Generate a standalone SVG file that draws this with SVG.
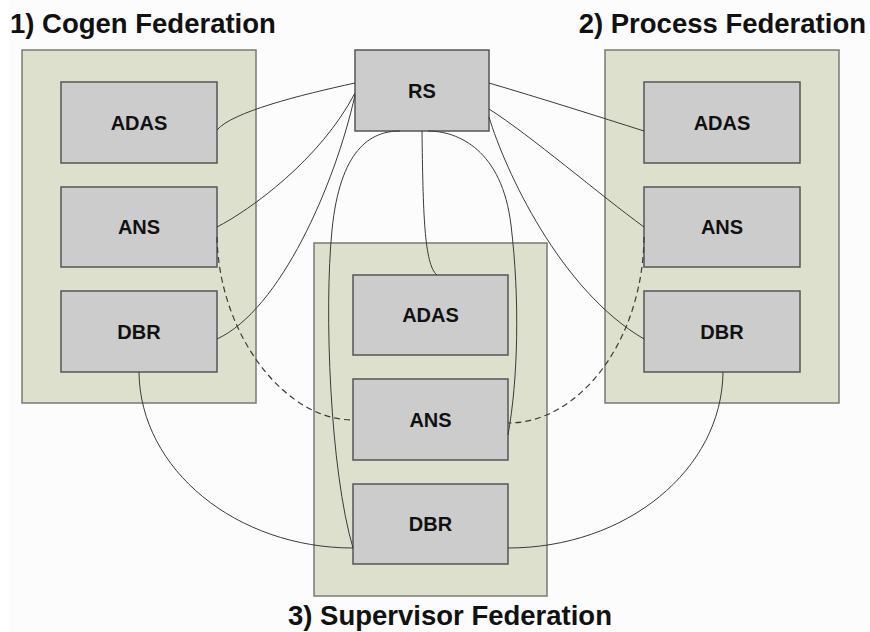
<svg xmlns="http://www.w3.org/2000/svg" width="870" height="632" viewBox="0 0 870 632">
<style>
.fed{fill:#dde0cc;stroke:#7a7a72;stroke-width:1.5}
.node{fill:#cccccc;stroke:#555555;stroke-width:1.5}
.lbl{font-family:"Liberation Sans",Arial,sans-serif;font-weight:bold;font-size:20px;fill:#111;text-anchor:middle}
.title{font-family:"Liberation Sans",Arial,sans-serif;font-weight:bold;font-size:27.5px;fill:#111}
.c{fill:none;stroke:#3a3a3a;stroke-width:1}
.d{fill:none;stroke:#3a3a3a;stroke-width:1.2;stroke-dasharray:6,4}
</style>
<rect width="870" height="632" fill="#ffffff"/>
<rect x="9" y="0" width="861" height="632" fill="#fcfcfc"/>
<g id="titles">
<text class="title" x="10" y="33">1) Cogen Federation</text>
<text class="title" x="866" y="33" text-anchor="end">2) Process Federation</text>
<text class="title" x="450" y="625" text-anchor="middle">3) Supervisor Federation</text>
</g>
<g id="fed1"><rect class="fed" x="22" y="50" width="234" height="353"/></g>
<g id="fed2"><rect class="fed" x="605" y="50" width="234" height="353"/></g>
<g id="fed3"><rect class="fed" x="314" y="243" width="233" height="353"/></g>
<g id="cogen-adas"><rect class="node" x="61" y="82" width="156" height="81"/><text class="lbl" x="139" y="129.5">ADAS</text></g>
<g id="cogen-ans"><rect class="node" x="61" y="187" width="156" height="80"/><text class="lbl" x="139" y="234">ANS</text></g>
<g id="cogen-dbr"><rect class="node" x="61" y="291" width="156" height="81"/><text class="lbl" x="139" y="338.5">DBR</text></g>
<g id="process-adas"><rect class="node" x="644" y="82" width="156" height="81"/><text class="lbl" x="722" y="129.5">ADAS</text></g>
<g id="process-ans"><rect class="node" x="644" y="187" width="156" height="80"/><text class="lbl" x="722" y="234">ANS</text></g>
<g id="process-dbr"><rect class="node" x="644" y="291" width="156" height="81"/><text class="lbl" x="722" y="338.5">DBR</text></g>
<g id="sup-adas"><rect class="node" x="353" y="275" width="155" height="80"/><text class="lbl" x="430.5" y="322">ADAS</text></g>
<g id="sup-ans"><rect class="node" x="353" y="379" width="155" height="81"/><text class="lbl" x="430.5" y="426.5">ANS</text></g>
<g id="sup-dbr"><rect class="node" x="353" y="484" width="155" height="80"/><text class="lbl" x="430.5" y="531">DBR</text></g>
<g id="rs"><rect class="node" x="355" y="50" width="134" height="81"/><text class="lbl" x="422" y="97.5">RS</text></g>
<g id="connectors">
<path class="c" d="M217,130 C232,112 300,95 355,83"/>
<path class="c" d="M217,227 C250,210 320,160 355,93"/>
<path class="c" d="M217,339 C280,310 335,185 355,95"/>
<path class="c" d="M400,131 C370,131 340,150 332,230 S330,470 353,548"/>
<path class="c" d="M422,131 C423,210 424,265 437,275"/>
<path class="c" d="M428,131 C458,131 502,150 511,225 S518,380 508,435"/>
<path class="c" d="M489,83 C540,98 600,117 644,131"/>
<path class="c" d="M489,109 C530,135 600,195 644,227"/>
<path class="c" d="M489,117 C505,170 560,290 644,339"/>
<path class="c" d="M139,372 C140,470 237,548 353,548"/>
<path class="c" d="M723,372 C722,470 626,548 508,548"/>
<path class="d" d="M217,237 C219,335 285,420 353,420"/>
<path class="d" d="M644,237 C643,340 580,423 508,423"/>
</g>
</svg>
